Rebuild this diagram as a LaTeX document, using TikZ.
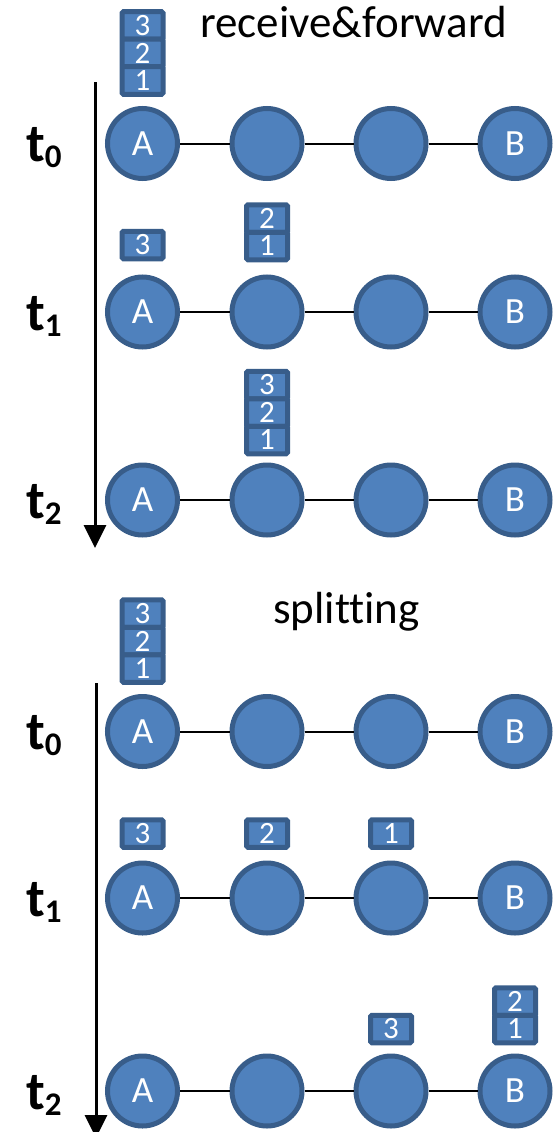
\documentclass[tikz,border=0pt]{standalone}
\usepackage{fontspec}
\setmainfont{Carlito}[Ligatures={NoCommon}]
\usetikzlibrary{arrows.meta}
\definecolor{nodefill}{HTML}{4F81BD}
\definecolor{nodeline}{HTML}{385D8A}
% time-step label: bold t with a lowered index
\newcommand{\tstep}[1]{\fontsize{54}{54}\selectfont\bfseries t\raisebox{-6pt}{\fontsize{33}{33}\selectfont #1}}

\begin{document}
\begin{tikzpicture}[x=1pt,y=-1pt,
  station/.style={circle, draw=nodeline, fill=nodefill, line width=5pt,
    minimum size=70pt, inner sep=0pt, text=white, font=\fontsize{37}{37}\selectfont},
  pkt/.style={rectangle, draw=nodeline, fill=nodefill, line width=5pt,
    minimum width=41pt, minimum height=27.5pt, inner sep=0pt, rounded corners=1.5pt,
    text=white, font=\fontsize{31}{31}\selectfont},
  link/.style={line width=2pt, black},
  timeaxis/.style={line width=3pt, -{Triangle[length=23pt,width=22pt]}},
  steplabel/.style={anchor=base west, inner sep=0pt},
  heading/.style={anchor=base west, inner sep=0pt, font=\fontsize{45}{45}\selectfont}]

\useasboundingbox (0,0) rectangle (555,1132);

% headings
\node[heading] (h1) at (200,38) {receive\&forward};
\node[heading] (h2) at (273,623) {splitting};

% time axes
\coordinate (ax1s) at (95,82);
\coordinate (ax1e) at (95,548);
\draw[timeaxis] (ax1s) -- (ax1e);
\coordinate (ax2s) at (96,683);
\coordinate (ax2e) at (96,1138);
\draw[timeaxis] (ax2s) -- (ax2e);

% rows of stations with their links
\foreach \r/\y in {a/143.5, b/312, c/500, d/731.5, e/898, f/1091} {
  \node[station] (\r1) at (142.5,\y) {A};
  \node[station] (\r2) at (267,\y) {};
  \node[station] (\r3) at (391,\y) {};
  \node[station] (\r4) at (515,\y) {B};
  \draw[link] (\r1) -- (\r2) (\r2) -- (\r3) (\r3) -- (\r4);
}

% time-step labels
\node[steplabel] (ta) at (26,161.5) {\tstep{0}};
\node[steplabel] (tb) at (26,330) {\tstep{1}};
\node[steplabel] (tc) at (26,518) {\tstep{2}};
\node[steplabel] (td) at (26,749.5) {\tstep{0}};
\node[steplabel] (te) at (26,916) {\tstep{1}};
\node[steplabel] (tf) at (26,1109) {\tstep{2}};

% packets: receive & forward
\node[pkt] (pa3) at (142.5,25.5) {3};
\node[pkt] (pa2) at (142.5,53) {2};
\node[pkt] (pa1) at (142.5,80.5) {1};

\node[pkt] (pb3) at (142.5,245) {3};
\node[pkt] (pb2) at (267,218.5) {2};
\node[pkt] (pb1) at (267,246) {1};

\node[pkt] (pc3) at (267,385) {3};
\node[pkt] (pc2) at (267,412.5) {2};
\node[pkt] (pc1) at (267,440) {1};

% packets: splitting
\node[pkt] (pd3) at (142.5,613.5) {3};
\node[pkt] (pd2) at (142.5,641) {2};
\node[pkt] (pd1) at (142.5,668.5) {1};

\node[pkt] (pe3) at (142.5,833.5) {3};
\node[pkt] (pe2) at (267,833.5) {2};
\node[pkt] (pe1) at (391,833.5) {1};

\node[pkt] (pf3) at (391,1029) {3};
\node[pkt] (pf2) at (515,1001.5) {2};
\node[pkt] (pf1) at (515,1029) {1};
\end{tikzpicture}
\end{document}
